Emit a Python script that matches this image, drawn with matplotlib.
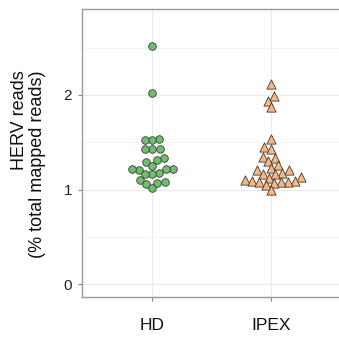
import numpy as np
import matplotlib
matplotlib.use("Agg")
import matplotlib.pyplot as plt

categories = ["HD", "IPEX"]
hd_values = [2.52, 2.02, 1.54, 1.52, 1.52, 1.43, 1.43, 1.43, 1.33, 1.31, 1.29, 1.25,
             1.22, 1.22, 1.21, 1.22, 1.18, 1.17, 1.17, 1.10, 1.085, 1.074, 1.056, 1.02]
ipex_values = [2.12, 1.99, 1.94, 1.87, 1.54, 1.45, 1.43, 1.35, 1.33, 1.30, 1.26, 1.23,
               1.21, 1.21, 1.18, 1.17, 1.17, 1.13, 1.127, 1.10, 1.09, 1.09, 1.085, 1.085,
               1.078, 1.067, 1.05, 0.997]
yticks = [0, 1, 2]

W, H = 339, 337
fig = plt.figure(figsize=(W / 100, H / 100), dpi=100)
ax_left, ax_right, ax_top, ax_bot = 81.7, 339.0, 9.3, 296.7
ax = fig.add_axes([ax_left / W, (H - ax_bot) / H, (ax_right - ax_left) / W, (ax_bot - ax_top) / H])
xlim = (-0.595, 1.573)
ylim = (-0.13, 2.905)
ax.set_xlim(*xlim)
ax.set_ylim(*ylim)

px_per_x = (ax_right - ax_left) / (xlim[1] - xlim[0])
px_per_y = (ax_bot - ax_top) / (ylim[1] - ylim[0])


def beeswarm(values, d):
    ys = np.asarray(values) * px_per_y
    order = np.argsort(ys)
    placed = []
    offs = np.zeros(len(ys))
    for i in order:
        y = ys[i]
        cands = [0.0]
        for (px, py) in placed:
            dy = abs(py - y)
            if dy < d:
                dx = np.sqrt(d * d - dy * dy)
                cands += [px + dx, px - dx]
        cands.sort(key=lambda c: (abs(c), c))
        for c in cands:
            ok = True
            for (px, py) in placed:
                if (px - c) ** 2 + (py - y) ** 2 < d * d - 1e-6:
                    ok = False
                    break
            if ok:
                offs[i] = c
                placed.append((c, y))
                break
    return offs / px_per_x


# grid
for y in [0.5, 1.5, 2.5]:
    ax.axhline(y, color="#f4f4f4", lw=0.8, zorder=0)
for y in yticks:
    ax.axhline(y, color="#ebebeb", lw=0.9, zorder=0)
for x in [0, 1]:
    ax.axvline(x, color="#ebebeb", lw=0.9, zorder=0)

d = 7.2
hd_off = beeswarm(hd_values, d)
ax.scatter(0 + hd_off, hd_values, s=30, marker="o", facecolor="#6dbf6d",
           edgecolor="#3a3a3a", linewidth=0.6, zorder=3)
ip_off = beeswarm(ipex_values, d)
ax.scatter(1 + ip_off, ipex_values, s=44, marker="^", facecolor="#fdb67c",
           edgecolor="#3a3a3a", linewidth=0.6, zorder=3)

ax.set_xticks([0, 1])
ax.set_xticklabels(categories, fontsize=12.5, family="Liberation Sans", color="#111111")
ax.set_yticks(yticks)
ax.set_yticklabels([str(v) for v in yticks], fontsize=11, family="Liberation Sans", color="#222222")
ax.tick_params(axis="both", color="#888888", length=3, width=0.8)
ax.tick_params(axis="x", pad=12)
ax.tick_params(axis="y", pad=4)

for s in ["left", "top", "bottom"]:
    ax.spines[s].set_color("#999999")
    ax.spines[s].set_linewidth(1.0)
ax.spines["right"].set_visible(False)

fig.text(28.5 / W, 1 - 70 / H, "HERV reads\n(% total mapped reads)", rotation=90,
         ha="center", va="top", multialignment="right", fontsize=13,
         family="Liberation Sans", color="#111111", linespacing=1.15)

fig.savefig("out.png", dpi=100)
